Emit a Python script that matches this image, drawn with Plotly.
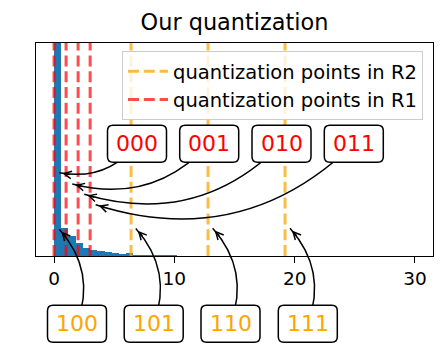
import math
import plotly.graph_objects as go

# ---------------- data ----------------
bin_width = 0.6
bin_counts = [600, 28, 20, 13, 8, 6.5, 5.5, 4, 3, 2, 3.3, 0.4, 0.4, 0.3, 0.3, 0.9, 0.3]
r1_points = [0, 1, 2, 3]            # quantization points in R1 (red)
r2_points = [6.4, 12.8, 19.2]       # quantization points in R2 (orange)
top_labels = ["000", "001", "010", "011"]
bottom_labels = ["100", "101", "110", "111"]
x_ticks = [0, 10, 20, 30]
title_text = "Our quantization"
legend_r2 = "quantization points in R2"
legend_r1 = "quantization points in R1"

# ---------------- layout geometry (pixels) ----------------
W, H = 448, 350
L, T, PW, PH = 36, 43, 397, 213
Y_MAX = 213
FONT = "DejaVu Sans"

def px_to_paper(px, py):
    return (px - L) / PW, (T + PH - py) / PH

bin_centers = [bin_width * (i + 0.5) for i in range(len(bin_counts))]

fig = go.Figure()
fig.add_trace(go.Bar(x=bin_centers, y=bin_counts, width=bin_width,
                     marker=dict(color="#1f77b4", line=dict(width=0)),
                     showlegend=False, hoverinfo="skip"))

def vlines(vals):
    xs, ys = [], []
    for v in vals:
        xs += [v, v, None]
        ys += [0, Y_MAX, None]
    return xs, ys

xs, ys = vlines(r2_points)
fig.add_trace(go.Scatter(x=xs, y=ys, mode="lines", name=legend_r2,
                         line=dict(color="rgba(255,165,0,0.75)", width=3, dash="11px,4.8px")))
xs, ys = vlines(r1_points)
fig.add_trace(go.Scatter(x=xs, y=ys, mode="lines", name=legend_r1,
                         line=dict(color="rgba(255,0,0,0.7)", width=3, dash="11px,4.8px")))

# annotation geometry (pixels)
top_centers = [(137, 143.7), (209.2, 143.7), (281.5, 143.7), (353.8, 143.7)]
top_tips = [(59.3, 172.7), (72.3, 184), (84.3, 194.3), (95.7, 204.7)]
bot_centers = [(77, 323.7), (153.7, 323.7), (230.5, 323.7), (307.8, 323.7)]
bot_tips = [(59.3, 229.3), (135.8, 228.5), (212.7, 228.3), (290, 228.3)]
BOX_W, BOX_H, BOX_R = 59, 37, 5.5

shapes = []
annotations = []

def curve(A, B, rad):
    ax_, ay_ = A[0], -A[1]
    bx_, by_ = B[0], -B[1]
    dx, dy = bx_ - ax_, by_ - ay_
    mx, my = (ax_ + bx_) / 2, (ay_ + by_) / 2
    cx, cy = mx + rad * dy, my - rad * dx
    C = (cx, -cy)
    pa = px_to_paper(*A); pc = px_to_paper(*C); pb = px_to_paper(*B)
    path = f"M{pa[0]},{pa[1]} Q{pc[0]},{pc[1]} {pb[0]},{pb[1]}"
    shapes.append(dict(type="path", xref="paper", yref="paper", path=path,
                       line=dict(color="black", width=1.5), layer="above"))
    # arrowhead
    ux, uy = C[0] - B[0], C[1] - B[1]
    n = math.hypot(ux, uy)
    ux, uy = ux / n, uy / n
    scale = 1.5 * 1.0
    anchor = (B[0] + ux * 2 * scale, B[1] + uy * 2 * scale)
    pp = px_to_paper(*anchor)
    annotations.append(dict(x=pp[0], y=pp[1], xref="paper", yref="paper", text="",
                            showarrow=True, arrowhead=5, arrowsize=1.0, arrowwidth=1.5,
                            arrowcolor="black", ax=ux * 9, ay=uy * 9))

def box(center, text, color):
    cx, cy = center
    x0, x1 = cx - BOX_W / 2, cx + BOX_W / 2
    y0, y1 = cy - BOX_H / 2, cy + BOX_H / 2
    r = BOX_R
    pts = [("M", (x0 + r, y0)), ("L", (x1 - r, y0)), ("Q", (x1, y0), (x1, y0 + r)),
           ("L", (x1, y1 - r)), ("Q", (x1, y1), (x1 - r, y1)), ("L", (x0 + r, y1)),
           ("Q", (x0, y1), (x0, y1 - r)), ("L", (x0, y0 + r)), ("Q", (x0, y0), (x0 + r, y0))]
    parts = []
    for p in pts:
        cmd = p[0]
        coords = " ".join("{},{}".format(*px_to_paper(*q)) for q in p[1:])
        parts.append(cmd + coords)
    shapes.append(dict(type="path", xref="paper", yref="paper", path=" ".join(parts) + " Z",
                       line=dict(color="black", width=1.5), fillcolor="white", layer="above"))
    pc = px_to_paper(cx, cy)
    annotations.append(dict(x=pc[0], y=pc[1], xref="paper", yref="paper", text=text,
                            showarrow=False, xanchor="center", yanchor="middle",
                            font=dict(family=FONT, size=22, color=color)))

for c, t in zip(top_centers, top_tips):
    curve(c, t, -0.3)
for c, t in zip(bot_centers, bot_tips):
    curve(c, t, 0.3)
for c, lab in zip(top_centers, top_labels):
    box(c, lab, "#ff0000")
for c, lab in zip(bot_centers, bottom_labels):
    box(c, lab, "#ffa500")

fig.update_layout(
    width=W, height=H,
    margin=dict(l=L, r=W - L - PW, t=T, b=H - T - PH, pad=0),
    paper_bgcolor="white", plot_bgcolor="white",
    title=dict(text=title_text, x=(L + PW / 2) / W, xanchor="center", xref="container",
               y=1 - 30 / H, yanchor="bottom", yref="container",
               font=dict(family=FONT, size=22.4, color="black")),
    xaxis=dict(range=[-1.5, 31.5], tickvals=x_ticks, ticks="outside", ticklen=5.5,
               tickwidth=1.2, tickcolor="black", showline=True, mirror=True,
               linecolor="black", linewidth=1.2, showgrid=False, zeroline=False,
               tickfont=dict(family=FONT, size=18.5, color="black")),
    yaxis=dict(range=[0, Y_MAX], showticklabels=False, ticks="", showline=True, mirror=True,
               linecolor="black", linewidth=1.2, showgrid=False, zeroline=False),
    legend=dict(x=(423 - L) / PW, xanchor="right", y=(T + PH - 51) / PH, yanchor="top",
                bgcolor="rgba(255,255,255,0.8)", bordercolor="#cccccc", borderwidth=1,
                font=dict(family=FONT, size=19.5, color="black"), tracegroupgap=0,
                itemwidth=40),
    shapes=shapes, annotations=annotations, bargap=0,
    font=dict(family=FONT),
)

fig.write_html("out.html", config={"displayModeBar": False},
               post_script="document.body.style.margin='0';document.body.style.padding='0';")
